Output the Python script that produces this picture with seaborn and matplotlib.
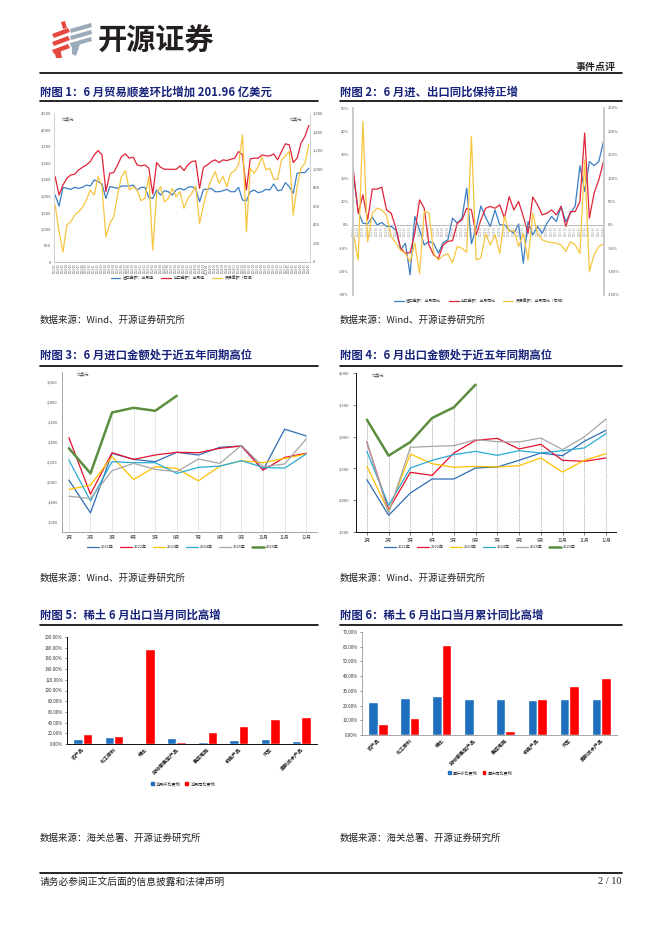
import matplotlib
matplotlib.use("Agg")
import matplotlib.pyplot as plt
from matplotlib.lines import Line2D
from matplotlib.patches import Polygon, Patch
from matplotlib.ticker import FuncFormatter, MultipleLocator
import seaborn as sns
import pandas as pd

# ---------------- data ----------------
# 附图1: 2021-01 .. 2026-06, 亿美元
imp_val = [2022, 1689, 2255, 2224, 2194, 2255, 2224, 2255, 2325, 2295, 2477, 2427,
           2356, 1921, 2275, 2255, 2224, 2295, 2295, 2295, 2325, 2174, 2255, 2255,
           1951, 1921, 2174, 2022, 2154, 2123, 2022, 2174, 2224, 2174, 2255, 2275,
           2224, 1820, 2194, 2194, 2224, 2123, 2123, 2154, 2194, 2123, 2123, 2255,
           1870, 1850, 2123, 2174, 2093, 2123, 2194, 2174, 2356, 2154, 2174, 2396,
           2275, 2073, 2680, 2700, 2700, 2831]
exp_val = [2578, 2022, 2325, 2528, 2629, 2650, 2780, 2861, 2932, 3033, 3235, 3367,
           3235, 2123, 2680, 2700, 2932, 3185, 3266, 3135, 3165, 2932, 2902, 2932,
           2831, 2053, 3003, 2861, 2800, 2800, 2800, 2800, 2902, 2760, 2932, 3033,
           3054, 2224, 2861, 2932, 3033, 3084, 3003, 3084, 3064, 3104, 3135, 3337,
           3235, 2174, 3114, 3135, 3135, 3235, 3205, 3205, 3266, 3084, 3337, 3569,
           3539, 3003, 3135, 3590, 3792, 4125]
bal_val = [612, 324, 108, 396, 432, 504, 540, 586, 665, 773, 719, 917,
           809, 270, 414, 486, 719, 917, 982, 773, 809, 773, 658, 683,
           917, 126, 737, 809, 647, 683, 791, 701, 755, 576, 683, 737,
           817, 414, 612, 773, 881, 971, 845, 917, 809, 953, 982, 1043,
           1367, 324, 1007, 953, 1025, 1126, 989, 1007, 888, 888, 1097, 1140,
           1187, 504, 809, 1007, 1060, 1259]

# 附图2: 2022-01 .. 2026-06, 同比 %
imp_yoy = [21.4, 5.7, 0.7, 0.4, 3.3, 0.0, 1.0, -0.7, -0.7, -2.1, -10.7, -7.9,
           -21.4, 3.6, -2.1, -8.6, -7.1, -7.9, -12.1, -7.6, -6.4, 2.9, 0.7, 2.9,
           15.7, -8.1, -1.4, 8.1, 3.3, -0.7, 6.4, 0.0, 0.0, -2.1, -3.6, 0.4,
           -16.4, 1.4, -4.3, -0.7, -3.6, 0.7, 3.6, 1.4, 7.9, 1.4, 5.0, 8.1,
           25.3, 14.3, 27.1, 25.3, 27.1, 35.7]
exp_yoy = [22.9, 5.0, 12.9, 2.1, 15.3, 15.3, 16.1, 6.4, 5.0, -1.4, -10.0, -12.1,
           -11.9, -3.6, 10.7, 7.1, -8.6, -12.9, -14.3, -8.6, -7.1, -6.7, 0.7, 2.1,
           7.1, 6.4, -4.3, 2.1, 7.1, 7.9, 7.1, 8.6, 2.9, 12.1, 6.4, 10.0,
           3.6, -3.6, 11.9, 8.6, 4.3, 5.0, 6.4, 4.3, 7.9, -0.7, 5.7, 5.7,
           10.0, 39.3, 2.9, 13.6, 19.3, 27.1]
bal_yoy = [-21, -75, 221, -36, 25, 36, 32, 21, -25, -39, -54, -61,
           -79, -39, -104, 29, 26, -61, -75, -66, -62, -81, -46, -50,
           -59, 189, -75, -71, -19, -43, -21, -61, 18, -14, -12, -46,
           -18, -75, 25, -18, -32, -36, -38, -39, -43, -57, -36, -43,
           -61, 139, -100, -64, -46, -41]

# 附图3: 月度进口金额, 亿美元
imp_2021 = [2019, 1691, 2287, 2226, 2203, 2297, 2270, 2347, 2360, 2119, 2528, 2461]
imp_2022 = [2444, 1878, 2293, 2226, 2270, 2297, 2293, 2337, 2360, 2119, 2246, 2287]
imp_2023 = [1925, 1969, 2253, 2026, 2153, 2136, 2012, 2159, 2213, 2193, 2236, 2280]
imp_2024 = [2220, 1811, 2203, 2193, 2193, 2086, 2146, 2159, 2213, 2146, 2139, 2280]
imp_2025 = [1858, 1835, 2113, 2186, 2126, 2103, 2230, 2186, 2367, 2153, 2180, 2431]
imp_2026 = [2337, 2086, 2695, 2742, 2712, 2862]

# 附图4: 月度出口金额, 亿美元
exp_2021 = [2323, 1762, 2113, 2333, 2333, 2506, 2522, 2627, 2742, 2700, 2926, 3099]
exp_2022 = [2910, 1851, 2438, 2391, 2742, 2941, 2973, 2805, 2878, 2627, 2611, 2664]
exp_2023 = [2532, 1825, 2726, 2574, 2517, 2532, 2522, 2543, 2664, 2443, 2627, 2732]
exp_2024 = [2768, 1919, 2506, 2627, 2716, 2768, 2705, 2779, 2742, 2779, 2821, 3046]
exp_2025 = [2926, 1799, 2831, 2847, 2857, 2952, 2920, 2915, 2978, 2795, 2994, 3277]
exp_2026 = [3266, 2700, 2915, 3292, 3460, 3817]

month_labels = ["1月", "2月", "3月", "4月", "5月", "6月", "7月", "8月", "9月", "10月", "11月", "12月"]
years = ["2021年", "2022年", "2023年", "2024年", "2025年", "2026年"]

# 附图5/6: 稀土及其它品类出口
cats = ["农产品", "化工原料", "稀土", "劳动密集型产品", "集成电路", "机电产品", "汽车", "高新技术产品"]
m_mom = [8.8, 13.2, 1.3, 11.3, 3.1, 6.9, 8.8, 5.0]
m_yoy = [18.8, 15.0, 178.1, 3.8, 22.6, 33.2, 47.0, 51.4]
c_mom = [22.5, 25.3, 26.7, 24.4, 24.8, 23.9, 24.4, 24.4]
c_yoy = [7.5, 11.6, 61.5, 0.5, 2.5, 24.6, 33.5, 38.7]

# ---------------- style ----------------
sns.set_theme(style="white")
plt.rcParams["font.family"] = ["Noto Sans CJK SC", "DejaVu Sans"]
plt.rcParams["axes.unicode_minus"] = False

W, H = 662, 936
fig = plt.figure(figsize=(W / 100, H / 100), dpi=100)
fig.patch.set_facecolor("white")

NAVY = "#17237A"
BLUE = "#3B7DC4"
RED = "#E0243A"
YEL = "#F7C53F"
YCOL = ["#2E6DB4", "#E8112D", "#FFC000", "#29ABD6", "#A6A6A6", "#5B8E3E"]
BAR_B = "#1F6FC0"
BAR_R = "#FF0000"


def box(l, t, r, b):
    return fig.add_axes([l / W, 1 - b / H, (r - l) / W, (b - t) / H])


def ftext(x, y, s, **kw):
    fig.text(x / W, 1 - y / H, s, **kw)


def hline(x0, x1, y, lw=1.0, color="black"):
    fig.add_artist(Line2D([x0 / W, x1 / W], [1 - y / H, 1 - y / H], lw=lw,
                          color=color, transform=fig.transFigure))


def thousands(v, _):
    return f"{v:,.0f}"


def legend_at(x, y, handles, labels, fs=3.0, col_sp=2.0, hl=2.5):
    fig.legend(handles, labels, loc="center", bbox_to_anchor=(x / W, 1 - y / H),
               ncol=len(handles), frameon=False, fontsize=fs, handlelength=hl,
               columnspacing=col_sp, handletextpad=0.6)


# ---------------- header / footer ----------------
ov = fig.add_axes([0, 0, 1, 1], zorder=-1)
ov.set_xlim(0, W)
ov.set_ylim(H, 0)
ov.axis("off")
for y0 in (30, 38, 46):
    ov.add_patch(Polygon([(52, y0 + 4), (68, y0 - 2), (70, y0 + 2), (54, y0 + 8)],
                         closed=True, color="#E5483F", lw=0))
ov.add_patch(Polygon([(61, 22), (65, 21), (67, 28), (63, 29)], closed=True, color="#E5483F", lw=0))
ov.add_patch(Polygon([(54, 50), (60, 48), (62, 58), (56, 58)], closed=True, color="#E5483F", lw=0))
for y0 in (26, 33, 40):
    ov.add_patch(Polygon([(70, y0 + 3), (91, y0 - 3), (92, y0 + 1), (71, y0 + 7)],
                         closed=True, color="#9BABB9", lw=0))
ov.add_patch(Polygon([(72, 46), (80, 44), (76, 56), (72, 54)], closed=True, color="#9BABB9", lw=0))
ftext(98, 41, "开源证券", fontsize=21, fontweight="bold", color="#231F20", va="center")
ftext(616, 67, "事件点评", fontsize=7.2, fontweight="bold", color="#222222", ha="right", va="center")
hline(40, 622, 73, lw=1.2)

hline(40, 622, 873, lw=1.2)
ftext(40, 882, "请务必参阅正文后面的信息披露和法律声明", fontsize=7, color="#222222", va="center")
ftext(622, 882, "2 / 10", fontsize=7.5, color="#222222", ha="right", va="center",
      family=["Liberation Serif", "DejaVu Serif"])

# titles and sources
titles = [
    (40, 92, 101, 318, "附图 1：6 月贸易顺差环比增加 201.96 亿美元"),
    (340, 92, 101, 622, "附图 2：6 月进、出口同比保持正增"),
    (40, 355, 366, 318, "附图 3：6 月进口金额处于近五年同期高位"),
    (340, 355, 366, 622, "附图 4：6 月出口金额处于近五年同期高位"),
    (40, 615, 625, 318, "附图 5：稀土 6 月出口当月同比高增"),
    (340, 615, 625, 622, "附图 6：稀土 6 月出口当月累计同比高增"),
]
for x, y, yl, x1, s in titles:
    ftext(x, y, s, fontsize=8.2, fontweight="bold", color=NAVY, va="center")
    hline(x, x1, yl, lw=1.2)

for x, y, s in [(40, 320, "数据来源：Wind、开源证券研究所"), (340, 320, "数据来源：Wind、开源证券研究所"),
                (40, 578, "数据来源：Wind、开源证券研究所"), (340, 578, "数据来源：Wind、开源证券研究所"),
                (40, 838, "数据来源：海关总署、开源证券研究所"), (340, 838, "数据来源：海关总署、开源证券研究所")]:
    ftext(x, y, s, fontsize=6.8, color="#222222", va="center")

# ---------------- 附图1 ----------------
months1 = pd.date_range("2021-01-01", periods=len(imp_val), freq="MS").strftime("%Y-%m")
df1 = pd.DataFrame({"i": range(len(imp_val)), "imp": imp_val, "exp": exp_val, "bal": bal_val})
ax1 = box(54, 113, 310, 262)
sns.lineplot(data=df1, x="i", y="imp", ax=ax1, color=BLUE, lw=0.9)
sns.lineplot(data=df1, x="i", y="exp", ax=ax1, color=RED, lw=0.9)
ax1.set_xlim(-0.3, len(imp_val) - 0.7)
ax1.set_ylim(0, 4500)
ax1.yaxis.set_major_locator(MultipleLocator(500))
ax1.yaxis.set_major_formatter(FuncFormatter(thousands))
ax1.set_xticks(df1["i"])
ax1.set_xticklabels(months1, rotation=90)
ax1.tick_params(axis="x", labelsize=1.9, length=0, pad=1, colors="#555555")
ax1.tick_params(axis="y", labelsize=3, length=0, pad=2, colors="#555555")
ax1.set_xlabel("")
ax1.set_ylabel("")
ax1b = ax1.twinx()
sns.lineplot(data=df1, x="i", y="bal", ax=ax1b, color=YEL, lw=0.9)
ax1b.set_ylim(0, 1600)
ax1b.yaxis.set_major_locator(MultipleLocator(200))
ax1b.yaxis.set_major_formatter(FuncFormatter(thousands))
ax1b.tick_params(axis="y", labelsize=3, length=0, pad=2, colors="#555555")
ax1b.set_ylabel("")
for a in (ax1, ax1b):
    for sp in a.spines.values():
        sp.set_visible(False)
    a.spines["left"].set_visible(True)
    a.spines["right"].set_visible(True)
    a.spines["bottom"].set_visible(True)
    a.spines["left"].set_color("#D0D0D0")
    a.spines["right"].set_color("#D0D0D0")
    a.spines["bottom"].set_color("#BFBFBF")
    for sp in a.spines.values():
        sp.set_linewidth(0.6)
ax1.text(0.03, 0.97, "亿美元", transform=ax1.transAxes, fontsize=3, color="#555555", va="top")
ax1.text(0.97, 0.97, "亿美元", transform=ax1.transAxes, fontsize=3, color="#555555", va="top", ha="right")
legend_at(183, 278, [Line2D([], [], color=c, lw=0.9) for c in (BLUE, RED, YEL)],
          ["进口金额：当月值", "出口金额：当月值", "贸易差额（右轴）"], fs=2.8)

# ---------------- 附图2 ----------------
months2 = pd.date_range("2022-01-01", periods=len(imp_yoy), freq="MS").strftime("%Y-%m")
df2 = pd.DataFrame({"i": range(len(imp_yoy)), "imp": imp_yoy, "exp": exp_yoy, "bal": bal_yoy})
ax2 = box(353, 108, 604, 295)
sns.lineplot(data=df2, x="i", y="imp", ax=ax2, color=BLUE, lw=0.9)
sns.lineplot(data=df2, x="i", y="exp", ax=ax2, color=RED, lw=0.9)
ax2.set_xlim(-0.1, len(imp_yoy) - 0.9)
ax2.set_ylim(-30, 50)
ax2.yaxis.set_major_locator(MultipleLocator(10))
ax2.yaxis.set_major_formatter(FuncFormatter(lambda v, _: f"{v:.0f}%"))
ax2.set_xlabel("")
ax2.set_ylabel("")
ax2b = ax2.twinx()
sns.lineplot(data=df2, x="i", y="bal", ax=ax2b, color=YEL, lw=0.9)
ax2b.set_ylim(-150, 250)
ax2b.yaxis.set_major_locator(MultipleLocator(50))
ax2b.yaxis.set_major_formatter(FuncFormatter(lambda v, _: f"{v:.0f}%"))
ax2b.tick_params(axis="y", labelsize=3, length=0, pad=3, colors="#555555")
ax2b.tick_params(axis="x", which="both", bottom=False, labelbottom=False, top=False, labeltop=False)
ax2b.set_ylabel("")
ax2b.set_xlabel("")
for a in (ax2, ax2b):
    a.spines["top"].set_visible(False)
    a.spines["left"].set_color("#C8C8C8")
    a.spines["right"].set_color("#C8C8C8")
    a.spines["left"].set_linewidth(1.1)
    a.spines["right"].set_linewidth(1.1)
ax2b.spines["bottom"].set_visible(False)
ax2.spines["bottom"].set_position(("data", 0))
ax2.spines["bottom"].set_color("#A0A0A0")
ax2.spines["bottom"].set_linestyle((0, (2, 1.5)))
ax2.spines["bottom"].set_linewidth(0.6)
ax2.set_xticks(df2["i"])
ax2.set_xticklabels(months2, rotation=90)
ax2.tick_params(axis="x", labelsize=1.9, length=0, pad=1, colors="#8C8C8C")
ax2.tick_params(axis="y", labelsize=3, length=0, pad=3, colors="#555555")
legend_at(480, 301, [Line2D([], [], color=c, lw=0.9) for c in (BLUE, RED, YEL)],
          ["进口金额：当月同比", "出口金额：当月同比", "贸易差额：当月同比（右轴）"], fs=2.8)


# ---------------- 附图3 / 附图4 ----------------
def month_chart(rect, series, ylim, step, grid_style, spine_color, legend_xy):
    rows = []
    for yr, vals in zip(years, series):
        for k, v in enumerate(vals):
            rows.append({"m": k, "val": v, "year": yr})
    df = pd.DataFrame(rows)
    ax = box(*rect)
    mx = df.groupby("m")["val"].max()
    ax.vlines(mx.index, ylim[0], mx.values, **grid_style)
    base = df[df["year"] != years[-1]]
    sns.lineplot(data=base, x="m", y="val", hue="year", palette=YCOL[:5], lw=0.9,
                 legend=False, ax=ax)
    sns.lineplot(data=df[df["year"] == years[-1]], x="m", y="val", color=YCOL[5],
                 lw=1.8, legend=False, ax=ax)
    ax.set_ylim(*ylim)
    ax.yaxis.set_major_locator(MultipleLocator(step))
    ax.yaxis.set_major_formatter(FuncFormatter(thousands))
    ax.set_xticks(range(12))
    ax.set_xticklabels(month_labels)
    ax.set_xlabel("")
    ax.set_ylabel("")
    for sp in ("top", "right"):
        ax.spines[sp].set_visible(False)
    for sp in ("left", "bottom"):
        ax.spines[sp].set_color(spine_color)
        ax.spines[sp].set_linewidth(0.7)
    ax.text(0.06, 1.0, "亿美元", transform=ax.transAxes, fontsize=3, color="#555555", va="top")
    handles = [Line2D([], [], color=c, lw=1.8 if i == 5 else 0.9) for i, c in enumerate(YCOL)]
    legend_at(legend_xy[0], legend_xy[1], handles, years, fs=2.8, col_sp=1.6, hl=3.0)
    return ax


ax3 = month_chart((62, 372, 317, 532), [imp_2021, imp_2022, imp_2023, imp_2024, imp_2025, imp_2026],
                  (1500, 3100), 200, dict(color="#E3E3E3", lw=0.6), "#A6A6A6", (183, 547))
ax3.set_xlim(-0.32, 11.5)
ax3.tick_params(axis="x", labelsize=3.3, length=0, pad=2, colors="#444444")
ax3.tick_params(axis="y", labelsize=3, length=0, pad=3, colors="#555555")

ax4 = month_chart((356, 373, 616, 532), [exp_2021, exp_2022, exp_2023, exp_2024, exp_2025, exp_2026],
                  (1500, 4000), 500, dict(color="#9A9A9A", lw=0.5, linestyles=(0, (2, 1.5))),
                  "#111111", (480, 547))
ax4.set_xlim(-0.5, 11.46)
ax4.tick_params(axis="x", labelsize=3.3, length=2, width=0.5, pad=2, colors="#444444",
                direction="out", bottom=True)
ax4.tick_params(axis="y", labelsize=3, length=2, width=0.5, pad=3, colors="#555555",
                direction="out", left=True)


# ---------------- 附图5 / 附图6 ----------------
def bar_chart(rect, mom, yoy, names, ylim, step, spine_color, legend_xy):
    df = pd.DataFrame({"cat": cats * 2, "val": mom + yoy,
                       "series": [names[0]] * len(cats) + [names[1]] * len(cats)})
    ax = box(*rect)
    sns.barplot(data=df, x="cat", y="val", hue="series", palette=[BAR_B, BAR_R],
                width=0.6, saturation=1, legend=False, ax=ax)
    ax.set_ylim(*ylim)
    ax.set_xlim(-0.5, len(cats) - 0.5)
    ax.yaxis.set_major_locator(MultipleLocator(step))
    ax.yaxis.set_major_formatter(FuncFormatter(lambda v, _: f"{v:.2f}%"))
    ax.set_xlabel("")
    ax.set_ylabel("")
    plt.setp(ax.get_xticklabels(), rotation=45, ha="right", rotation_mode="anchor")
    ax.tick_params(axis="x", labelsize=3.6, length=0, pad=2, colors="#222222")
    ax.tick_params(axis="y", labelsize=3.2, length=1.5, width=0.4, pad=1.5, colors="#333333",
                   direction="out", left=True)
    for lab in ax.get_xticklabels():
        lab.set_fontweight("bold")
    for sp in ("top", "right"):
        ax.spines[sp].set_visible(False)
    for sp in ("left", "bottom"):
        ax.spines[sp].set_color(spine_color)
        ax.spines[sp].set_linewidth(0.7)
    handles = [Patch(color=BAR_B), Patch(color=BAR_R)]
    fig.legend(handles, names, loc="center", bbox_to_anchor=(legend_xy[0] / W, 1 - legend_xy[1] / H),
               ncol=2, frameon=False, fontsize=3.0, handlelength=0.7, handleheight=0.7,
               columnspacing=1.2, handletextpad=0.5)
    return ax


ax5 = bar_chart((67, 637, 317, 744), m_mom, m_yoy, ["当月环比变动", "当月同比变动"],
                (0, 200), 20, "#111111", (183, 784))
ax6 = bar_chart((362, 632, 617, 735), c_mom, c_yoy, ["累计环比变动", "累计同比变动"],
                (0, 70), 10, "#A6A6A6", (480, 773))

fig.savefig("out.png", dpi=100, facecolor="white")
